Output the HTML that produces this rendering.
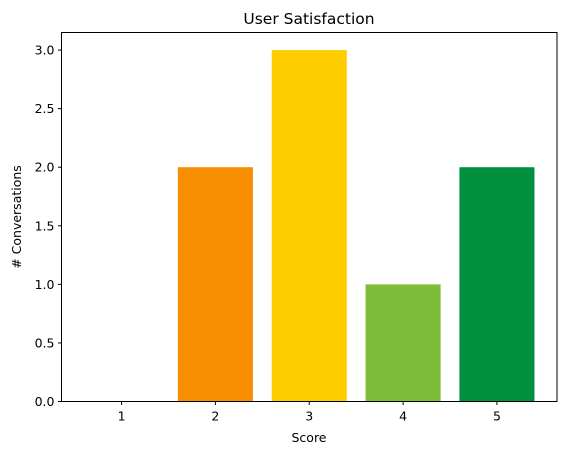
<!DOCTYPE html>
<html><head><meta charset="utf-8"><style>
body{margin:0;background:#fff;font-family:"Liberation Sans","DejaVu Sans",sans-serif;}
svg text{font-family:"DejaVu Sans","Liberation Sans",sans-serif;fill:#000;}
</style></head><body>
<svg id="chart" width="567" height="455" xmlns="http://www.w3.org/2000/svg">
<rect width="567" height="455" fill="#fff"/>
<text x="309" y="24" font-size="15.5" text-anchor="middle">User Satisfaction</text>
<g id="bars"></g>
<g id="axes"></g>
<rect x="61.5" y="32.5" width="495.5" height="369" fill="none" stroke="#000" stroke-width="1"/>
<text x="309" y="442" font-size="12.5" text-anchor="middle">Score</text>
<text transform="translate(21,217) rotate(-90)" font-size="12.5" text-anchor="middle"># Conversations</text>
</svg>
<script>
const categories = [1, 2, 3, 4, 5];
const values = [0, 2, 3, 1, 2];
const colors = ["#e2281e", "#f78f00", "#ffcc00", "#7fbc39", "#009140"];
const yTicks = [0, 0.5, 1.0, 1.5, 2.0, 2.5, 3.0];
const yTickLabels = ["0.0", "0.5", "1.0", "1.5", "2.0", "2.5", "3.0"];

const ns = "http://www.w3.org/2000/svg";
const L = 61.5, R = 557, T = 32.5, B = 401.5;
const xMin = 0.36, xMax = 5.64, yMax = 3.15;
const xS = v => L + (v - xMin) / (xMax - xMin) * (R - L);
const yS = v => B - v / yMax * (B - T);
const bars = document.getElementById('bars');
const axes = document.getElementById('axes');
function mk(tag, attrs, parent){const e=document.createElementNS(ns,tag);for(const k in attrs)e.setAttribute(k,attrs[k]);parent.appendChild(e);return e;}
categories.forEach((c,i)=>{
  const x0 = xS(c-0.4), x1 = xS(c+0.4);
  const r = mk('rect',{x:x0,y:yS(values[i]),width:x1-x0,height:yS(0)-yS(values[i]),fill:colors[i]},bars);
  
  
  const t = mk('line',{x1:xS(c),x2:xS(c),y1:B,y2:B+3.5,stroke:'#000'},axes);
  
  
  const l = mk('text',{x:xS(c),y:B+19,'font-size':12.5,'text-anchor':'middle'},axes);
  l.textContent = c;
  
  
});
yTicks.forEach((v,i)=>{
  const y = yS(v);
  const t = mk('line',{x1:L-3.5,x2:L,y1:y,y2:y,stroke:'#000'},axes);
  
  
  const l = mk('text',{x:L-7,y:y+4.5,'font-size':12.5,'text-anchor':'end'},axes);
  l.textContent = yTickLabels[i];
  
  
});
</script>
</body></html>
